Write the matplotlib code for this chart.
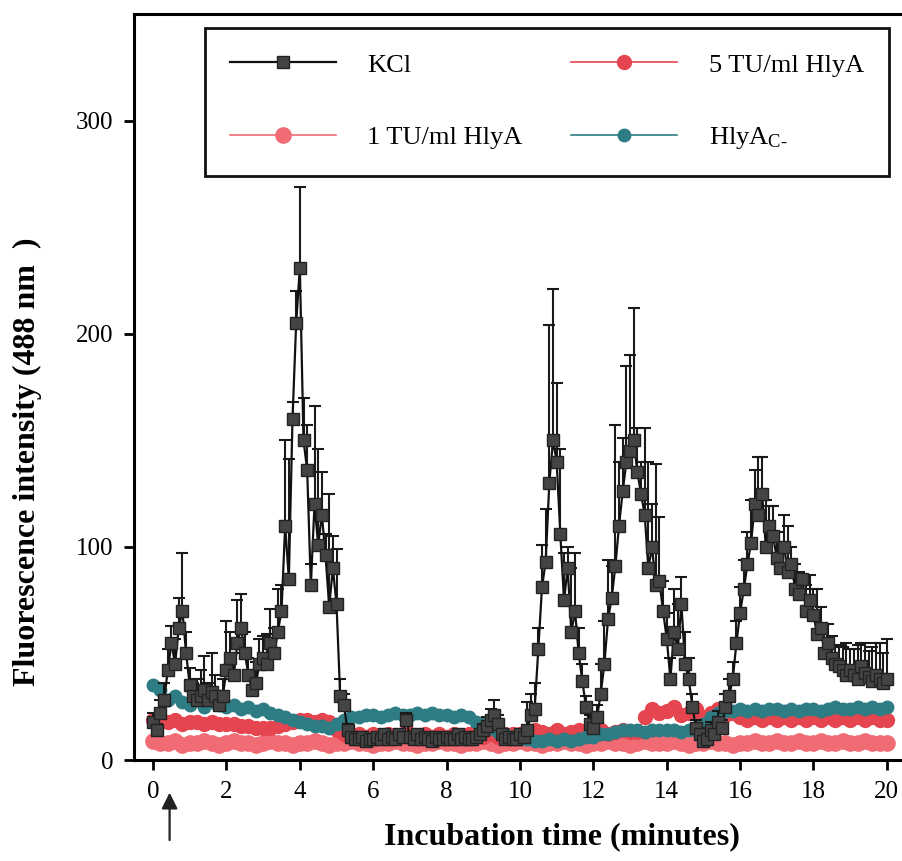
import numpy as np
import matplotlib
matplotlib.use('Agg')
import matplotlib.pyplot as plt

plt.rcParams['font.family'] = ['Liberation Serif', 'DejaVu Serif']
plt.rcParams['mathtext.fontset'] = 'custom'
plt.rcParams['mathtext.rm'] = 'Liberation Serif'

# KCl, sampled every 0.1 min from 0 to 20 min
kcl_time = np.round(np.arange(0, 20.01, 0.1), 1)
kcl_vals = [
    18, 14, 22, 28, 42, 55, 45, 62, 70, 50,
    35, 30, 28, 30, 33, 28, 32, 30, 26, 30,
    42, 48, 40, 55, 62, 50, 40, 33, 36, 45,
    48, 45, 55, 50, 60, 70, 110, 85, 160, 205,
    231, 150, 136, 82, 120, 101, 115, 96, 72, 90,
    73, 30, 26, 14, 11, 10, 10, 11, 9, 10,
    10, 11, 10, 12, 10, 11, 10, 12, 11, 19,
    11, 10, 12, 10, 11, 10, 9, 11, 10, 10,
    11, 10, 10, 12, 10, 11, 10, 10, 11, 12,
    14, 16, 19, 21, 17, 12, 10, 11, 10, 10,
    12, 11, 14, 21, 24, 52, 81, 93, 130, 150,
    140, 106, 75, 90, 60, 70, 50, 37, 25, 17,
    15, 20, 31, 45, 66, 76, 91, 110, 126, 140,
    145, 150, 135, 125, 115, 90, 100, 82, 84, 70,
    57, 38, 60, 52, 73, 45, 38, 25, 15, 12,
    9, 10, 14, 12, 18, 15, 25, 30, 38, 55,
    69, 80, 92, 102, 120, 115, 125, 100, 110, 105,
    95, 90, 100, 88, 92, 80, 78, 85, 70, 75,
    68, 59, 62, 50, 55, 48, 45, 44, 42, 40,
    42, 40, 38, 44, 41, 39, 37, 40, 38, 36,
    38,
]
kcl_err = [
    4, 3, 6, 8, 10, 8, 12, 14, 27, 10,
    8, 6, 10, 12, 16, 8, 18, 10, 6, 8,
    23, 12, 10, 20, 16, 10, 8, 6, 10, 12,
    10, 14, 16, 12, 20, 12, 40, 56, 8, 15,
    38, 20, 21, 10, 46, 45, 20, 10, 53, 15,
    26, 8, 5, 3, 2, 2, 2, 2, 2, 2,
    2, 2, 2, 2, 2, 2, 2, 2, 2, 3,
    2, 2, 2, 2, 2, 2, 2, 2, 2, 2,
    2, 2, 2, 2, 2, 2, 2, 2, 2, 2,
    3, 4, 5, 7, 4, 2, 2, 2, 2, 2,
    2, 3, 13, 10, 12, 10, 20, 25, 74, 71,
    37, 40, 22, 10, 30, 27, 12, 8, 5, 4,
    4, 6, 14, 20, 28, 15, 66, 30, 25, 45,
    45, 62, 21, 15, 41, 50, 20, 57, 30, 14,
    12, 10, 20, 21, 13, 15, 10, 6, 4, 3,
    2, 3, 4, 3, 5, 4, 6, 8, 8, 10,
    12, 14, 15, 20, 16, 27, 17, 22, 9, 14,
    12, 10, 15, 22, 8, 12, 10, 2, 12, 12,
    12, 21, 10, 14, 9, 10, 8, 10, 11, 15,
    10, 12, 16, 11, 14, 12, 16, 15, 17, 14,
    19,
]

# toxin and control series, sampled every 0.2 min
base_time = np.round(np.arange(0, 20.01, 0.2), 1)
hly1_vals = [
    9, 8, 8, 9, 7, 8, 8, 9, 8, 7,
    8, 9, 8, 8, 7, 8, 9, 8, 8, 7,
    8, 8, 9, 8, 7, 8, 8, 9, 8, 8,
    7, 8, 8, 9, 8, 8, 7, 8, 8, 9,
    8, 8, 7, 8, 8, 9, 8, 7, 8, 8,
    9, 8, 8, 7, 8, 8, 9, 8, 8, 7,
    8, 8, 9, 8, 8, 7, 8, 9, 8, 8,
    8, 9, 8, 7, 8, 8, 9, 8, 8, 7,
    8, 8, 9, 8, 8, 9, 8, 8, 9, 8,
    8, 9, 8, 8, 9, 8, 8, 9, 8, 8,
    8,
]
hly5_vals = [
    19, 18, 18, 19, 17, 18, 18, 17, 18, 17,
    17, 17, 16, 16, 15, 15, 15, 16, 17, 18,
    19, 19, 18, 19, 18, 14, 12, 11, 12, 11,
    12, 11, 12, 11, 12, 12, 11, 12, 11, 12,
    11, 12, 11, 12, 12, 11, 12, 11, 12, 12,
    12, 13, 14, 13, 12, 14, 12, 13, 14, 13,
    12, 14, 12, 13, 14, 13, 13, 20, 24, 22,
    23, 25, 21, 22, 24, 20, 22, 24, 21, 22,
    20, 19, 20, 19, 20, 19, 20, 19, 20, 19,
    20, 19, 20, 19, 20, 19, 20, 19, 20, 19,
    19,
]
hlyc_vals = [
    35, 33, 28, 30, 27, 26, 28, 25, 27, 26,
    25, 26, 24, 25, 23, 24, 22, 21, 20, 19,
    18, 17, 16, 16, 15, 17, 19, 20, 20, 21,
    21, 20, 21, 22, 21, 21, 22, 21, 22, 21,
    21, 20, 21, 20, 18, 17, 15, 13, 12, 11,
    10, 10, 9, 9, 10, 9, 10, 9, 10, 11,
    11, 12, 12, 13, 14, 14, 14, 13, 14, 14,
    14, 14, 13, 14, 14, 17, 20, 22, 23, 23,
    24, 23, 24, 23, 24, 24, 23, 24, 23, 24,
    24, 23, 24, 25, 24, 24, 25, 24, 25, 24,
    25,
]

x_ticks = [0, 2, 4, 6, 8, 10, 12, 14, 16, 18, 20]
y_ticks = [0, 100, 200, 300]

fig = plt.figure(figsize=(9.03, 8.61), dpi=100)
ax = fig.add_axes([0.1484, 0.1173, 0.8516, 0.8664])

l1, = ax.plot(base_time, hly1_vals, '-o', color='#f06b74', lw=1.2,
              ms=11, mec='#f06b74', zorder=2, label='1 TU/ml HlyA')
l5, = ax.plot(base_time, hly5_vals, '-o', color='#e5454f', lw=1.2,
              ms=10, mec='#e5454f', zorder=3, label='5 TU/ml HlyA')
lc, = ax.plot(base_time, hlyc_vals, '-o', color='#2e7c84', lw=1.2,
              ms=9, mec='#2e7c84', zorder=3,
              label='$\\mathregular{HlyA_{C\\text{-}}}$')

ax.errorbar(kcl_time, kcl_vals, yerr=[np.zeros(len(kcl_err)), kcl_err],
            fmt='none', ecolor='#1a1a1a', elinewidth=1.5, capsize=4,
            capthick=1.5, zorder=4)
lk, = ax.plot(kcl_time, kcl_vals, '-s', color='#111111', lw=1.6, ms=8.5,
              mfc='#444444', mec='#222222', zorder=5, label='KCl')

ax.set_xlim(-0.52, 20.44)
ax.set_ylim(0, 350)
ax.set_xticks(x_ticks)
ax.set_yticks(y_ticks)
ax.tick_params(direction='out', length=7, width=2, labelsize=18, pad=8)
for side in ['left', 'bottom', 'top']:
    ax.spines[side].set_linewidth(2.2)
ax.spines['right'].set_visible(False)

ax.set_xlabel('Incubation time (minutes)', fontsize=23, fontweight='bold')
ax.xaxis.set_label_coords(0.557, -0.083)
ax.xaxis.label.set_va('top')
ax.set_ylabel('Fluorescence intensity (488 nm  )', fontsize=23,
              fontweight='bold')
ax.yaxis.set_label_coords(-0.12, 0.40)

ax.annotate('', xy=(0.45, -0.040), xycoords=('data', 'axes fraction'),
            xytext=(0.45, -0.111), textcoords=('data', 'axes fraction'),
            arrowprops=dict(arrowstyle='-|>', color='#222222', lw=1.6,
                            mutation_scale=24))

leg = ax.legend(handles=[lk, l1, l5, lc], ncol=2, loc='upper left',
                bbox_to_anchor=(205 / 903, 1 - 28 / 861),
                bbox_transform=fig.transFigure, borderaxespad=0,
                fontsize=19, handlelength=4.0, handletextpad=1.2,
                columnspacing=1.85, labelspacing=1.85, borderpad=0.95,
                numpoints=1, fancybox=False, framealpha=1,
                edgecolor='#111111')
leg.get_frame().set_linewidth(2)

fig.savefig('out.png', dpi=100)
